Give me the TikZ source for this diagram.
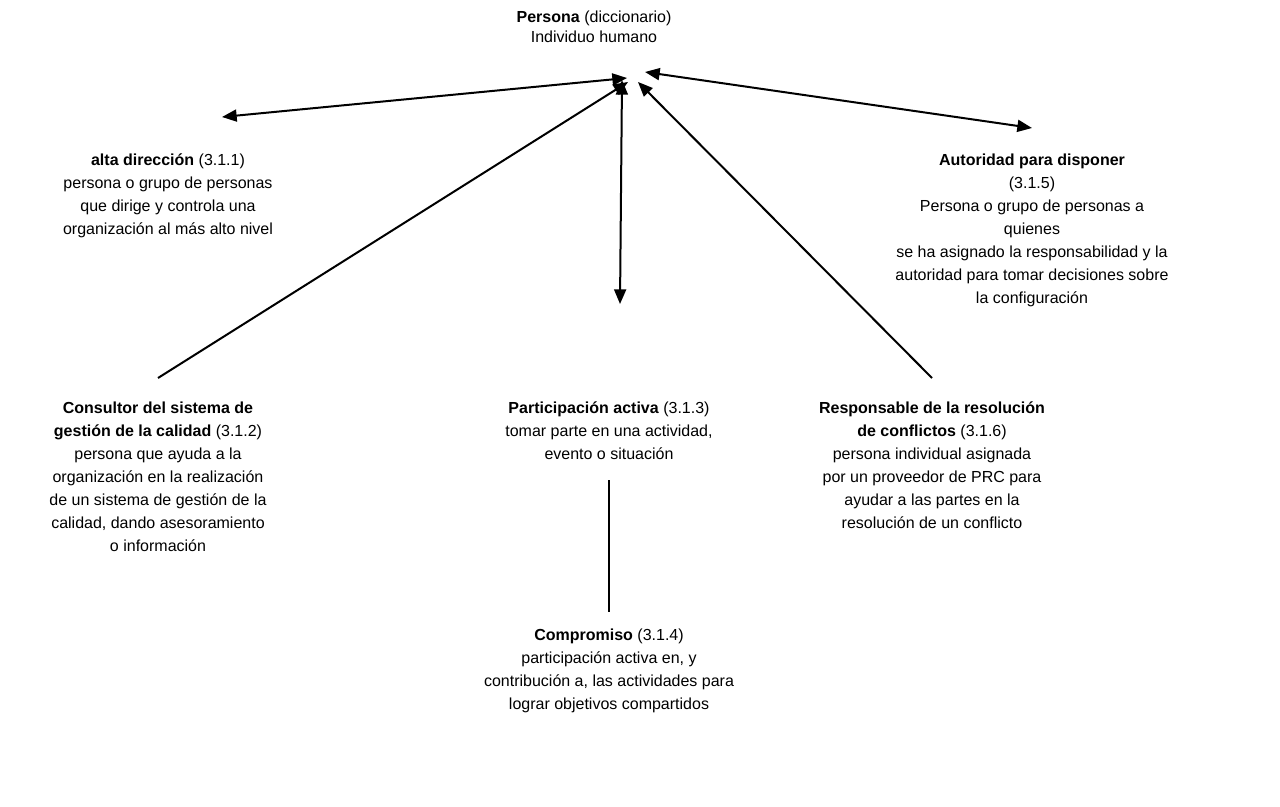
\documentclass[tikz,border=0pt]{standalone}
\usepackage{fontspec}
\setmainfont{Liberation Sans}
\usetikzlibrary{arrows.meta}
\begin{document}
\begin{tikzpicture}[x=0.75pt,y=-0.75pt,
  txt/.style={align=center,inner sep=0pt,font=\fontsize{12}{17.25}\selectfont},
  conn/.style={line width=1.5pt,black,>={Triangle[length=11pt,width=9pt]}}
]
\useasboundingbox (0,0) rectangle (1280,806);
% texts
\node[txt,font=\fontsize{12}{15}\selectfont] (persona) at (594,27) {\textbf{Persona} (diccionario)\\Individuo humano};
\node[txt] (alta) at (168,196) {\textbf{alta dirección} (3.1.1)\\persona o grupo de personas\\que dirige y controla una\\organización al más alto nivel};
\node[txt] (autoridad) at (1032,230) {\textbf{Autoridad para disponer}\\(3.1.5)\\Persona o grupo de personas a\\quienes\\se ha asignado la responsabilidad y la\\autoridad para tomar decisiones sobre\\la configuración};
\node[txt] (consultor) at (158,477) {\textbf{Consultor del sistema de}\\\textbf{gestión de la calidad} (3.1.2)\\persona que ayuda a la\\organización en la realización\\de un sistema de gestión de la\\calidad, dando asesoramiento\\o información};
\node[txt] (particip) at (609,431) {\textbf{Participación activa} (3.1.3)\\tomar parte en una actividad,\\evento o situación};
\node[txt] (respons) at (932,465) {\textbf{Responsable de la resolución}\\\textbf{de conflictos} (3.1.6)\\persona individual asignada\\por un proveedor de PRC para\\ayudar a las partes en la\\resolución de un conflicto};
\node[txt] (compromiso) at (609,671) {\textbf{Compromiso} (3.1.4)\\participación activa en, y\\contribución a, las actividades para\\lograr objetivos compartidos};
% connector ends
\coordinate (pA) at (627,78);  \coordinate (aE) at (222,117);
\coordinate (pB) at (645,72);  \coordinate (bE) at (1032,128);
\coordinate (pC) at (628,82);  \coordinate (cE) at (158,378);
\coordinate (pD) at (622,80);  \coordinate (dE) at (620,304);
\coordinate (pE) at (638,82);  \coordinate (eE) at (932,378);
\coordinate (fS) at (609,480); \coordinate (fE) at (609,612);
% connectors
\draw[conn,<->] (pA) -- (aE);
\draw[conn,<->] (pB) -- (bE);
\draw[conn,->] (cE) -- (pC);
\draw[conn,<->] (pD) -- (dE);
\draw[conn,->] (eE) -- (pE);
\draw[conn] (fS) -- (fE);
\end{tikzpicture}
\end{document}
